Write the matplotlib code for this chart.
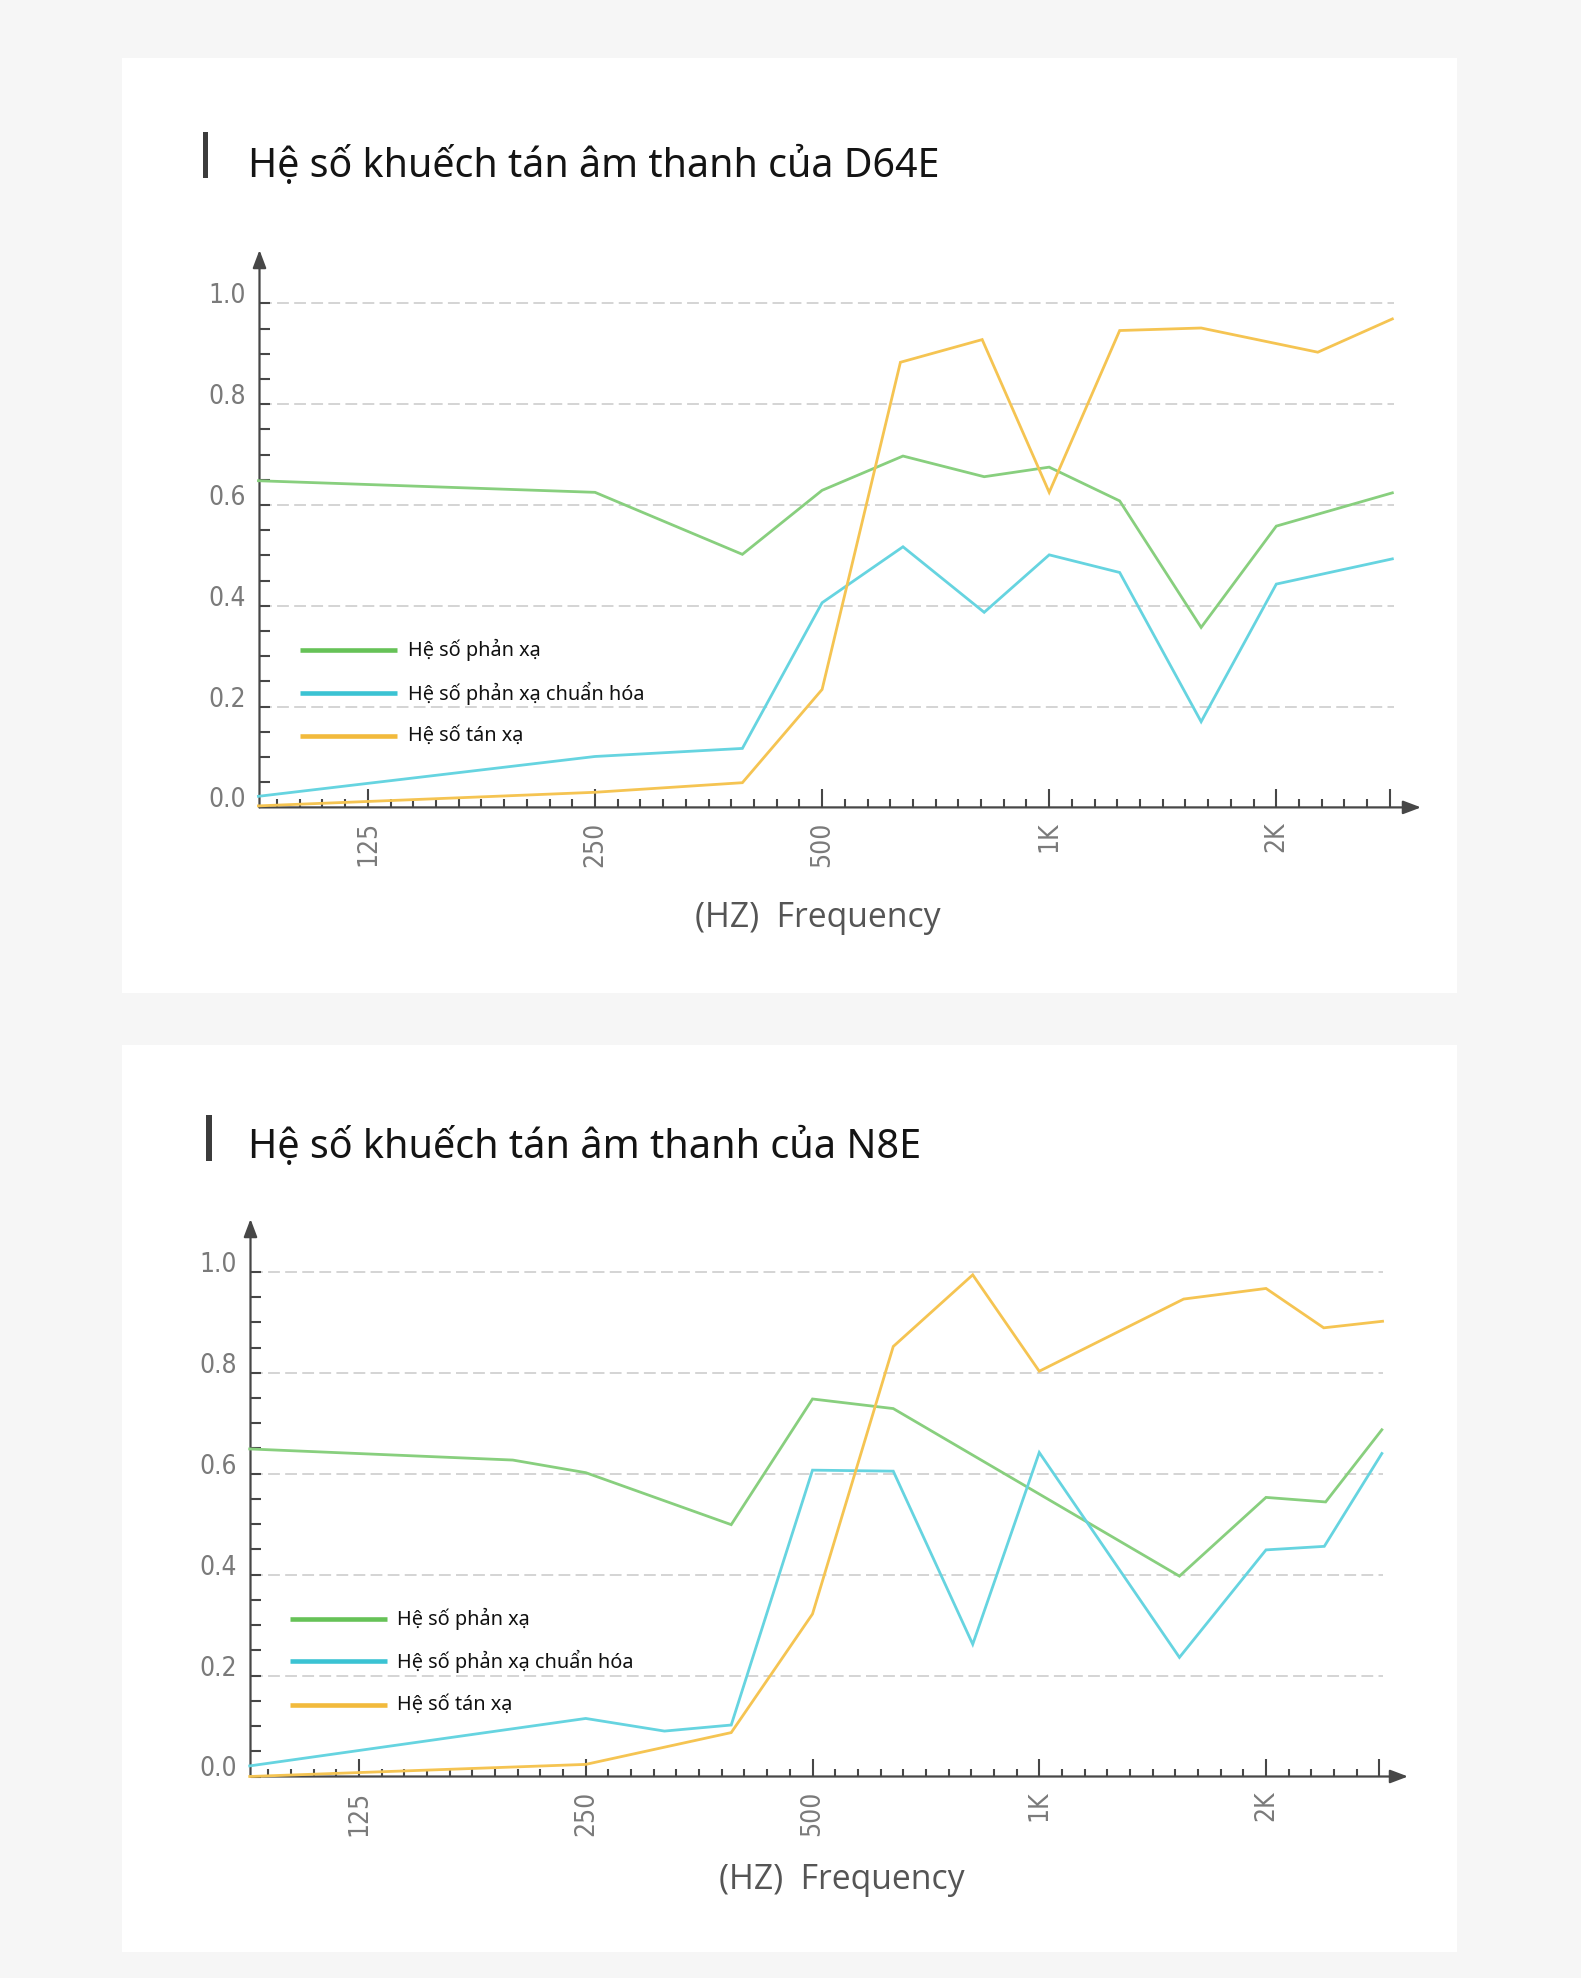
import numpy as np
import matplotlib
matplotlib.use("Agg")
import matplotlib.pyplot as plt
from matplotlib.patches import Rectangle
from matplotlib.lines import Line2D
from matplotlib.ticker import NullFormatter
from matplotlib import font_manager as fm

# ---------------- data ----------------
titles = ["Hệ số khuếch tán âm thanh của D64E", "Hệ số khuếch tán âm thanh của N8E"]
series_names = ["Hệ số phản xạ", "Hệ số phản xạ chuẩn hóa", "Hệ số tán xạ"]
xlabel_text = "(HZ)  Frequency"
xtick_freqs = [125, 250, 500, 1000, 2000]
xtick_labels = ["125", "250", "500", "1K", "2K"]
ytick_values = [0.0, 0.2, 0.4, 0.6, 0.8, 1.0]
ytick_labels = ["0.0", "0.2", "0.4", "0.6", "0.8", "1.0"]

# D64E
d64e_refl_freq = [89.5, 250, 392, 500, 640, 820, 1000, 1240, 1590, 2000, 2850]
d64e_refl = [0.648, 0.625, 0.502, 0.629, 0.697, 0.656, 0.675, 0.608, 0.357, 0.558, 0.624]
d64e_norm_freq = [89.5, 250, 392, 500, 640, 820, 1000, 1240, 1590, 2000, 2850]
d64e_norm = [0.022, 0.101, 0.117, 0.406, 0.517, 0.387, 0.501, 0.466, 0.170, 0.443, 0.493]
d64e_scat_freq = [89.5, 250, 392, 500, 635, 815, 1000, 1240, 1590, 2270, 2850]
d64e_scat = [0.003, 0.030, 0.049, 0.234, 0.883, 0.928, 0.625, 0.946, 0.951, 0.903, 0.969]

# N8E
n8e_refl_freq = [89.5, 200, 250, 390, 500, 640, 1535, 2000, 2400, 2850]
n8e_refl = [0.649, 0.627, 0.602, 0.499, 0.748, 0.729, 0.397, 0.553, 0.544, 0.687]
n8e_norm_freq = [89.5, 250, 318, 390, 500, 640, 816, 1000, 1535, 2000, 2390, 2850]
n8e_norm = [0.021, 0.115, 0.090, 0.102, 0.607, 0.605, 0.262, 0.642, 0.236, 0.449, 0.456, 0.640]
n8e_scat_freq = [89.5, 250, 390, 500, 640, 816, 1000, 1555, 2000, 2386, 2856]
n8e_scat = [0.000, 0.024, 0.087, 0.322, 0.852, 0.994, 0.803, 0.946, 0.967, 0.889, 0.902]

# ---------------- style ----------------
W, H, DPI = 1581, 1978, 100
plt.rcParams["lines.scale_dashes"] = False
plt.rcParams["font.family"] = ["Noto Sans", "DejaVu Sans"]

line_colors = ["#88cf7e", "#66d4e0", "#f5c452"]
legend_colors = ["#66c257", "#3bc3d3", "#f2ba3c"]
axis_color = "#474747"
tick_label_color = "#7a7a7a"


def pick_tick_font():
    try:
        p = fm.findfont(fm.FontProperties(family="Liberation Sans Narrow"), fallback_to_default=False)
        if "Narrow" in p:
            return fm.FontProperties(family="Liberation Sans Narrow")
    except Exception:
        pass
    try:
        fp = fm.FontProperties(family="DejaVu Sans", stretch="condensed")
        p = fm.findfont(fp, fallback_to_default=False)
        if "Condensed" in p:
            return fp
    except Exception:
        pass
    return fm.FontProperties(family="Noto Sans")


tick_fp = pick_tick_font()

fig = plt.figure(figsize=(W / DPI, H / DPI), dpi=DPI, facecolor="#f6f6f6")
renderer = fig.canvas.get_renderer()


def fx(x):
    return x / W


def fy(y):
    return 1 - y / H


def fit(txt, target_w):
    bb = txt.get_window_extent(renderer)
    txt.set_fontsize(txt.get_fontsize() * target_w / bb.width)
    return txt.get_fontsize()


# tick label size calibration
tmp = fig.text(0, 0, "125", fontproperties=tick_fp.copy())
tmp.set_fontsize(20)
tick_fs = fit(tmp, 45)
tmp.remove()

# cards
for (top, bottom) in [(58, 993), (1045, 1952)]:
    fig.add_artist(Rectangle((fx(122), fy(bottom)), fx(1457 - 122), (bottom - top) / H,
                             transform=fig.transFigure, facecolor="white",
                             edgecolor="none", zorder=0))

layouts = [
    dict(ax_left=259.5, ax_right=1421, y0=807.4, y1=303.3, ytop=250, x125=367.9, octave=227.1,
         grid_right=1394, bar=(203, 132, 178), title_xy=(248, 177), xlabel_xy=(817.5, 927),
         leg_x=(300, 397), leg_y=[650, 693, 736], leg_tx=408, title_w=691),
    dict(ax_left=250.5, ax_right=1408, y0=1776.5, y1=1271.8, ytop=1219, x125=359, octave=226.75,
         grid_right=1383, bar=(206, 1115, 1161), title_xy=(248, 1158), xlabel_xy=(842, 1889),
         leg_x=(290, 387), leg_y=[1619, 1661, 1705], leg_tx=397, title_w=672),
]

datasets = [
    [(d64e_refl_freq, d64e_refl), (d64e_norm_freq, d64e_norm), (d64e_scat_freq, d64e_scat)],
    [(n8e_refl_freq, n8e_refl), (n8e_norm_freq, n8e_norm), (n8e_scat_freq, n8e_scat)],
]

minor_freqs = [125 * 2 ** (k / 10) for k in range(-4, 45) if k % 10 != 0]
end_tick = 125 * 2 ** 4.5

for L, data, title in zip(layouts, datasets, titles):
    # title & bar
    bx, bt, bb = L["bar"]
    fig.add_artist(Rectangle((fx(bx), fy(bb)), fx(5.5), (bb - bt) / H, transform=fig.transFigure,
                             facecolor="#3c3c3c", edgecolor="none", zorder=2))
    t = fig.text(fx(L["title_xy"][0]), fy(L["title_xy"][1]), title, fontsize=30,
                 ha="left", va="baseline", color="#141414")
    fit(t, L["title_w"])

    # axes
    l, r, y0, y1, ytop = L["ax_left"], L["ax_right"], L["y0"], L["y1"], L["ytop"]
    ax = fig.add_axes([fx(l), fy(y0), fx(r - l), (y0 - ytop) / H])
    ax.set_facecolor("none")
    ax.set_xscale("log", base=2)
    flo = 125 * 2 ** ((l - L["x125"]) / L["octave"])
    fhi = 125 * 2 ** ((r - L["x125"]) / L["octave"])
    ax.set_xlim(flo, fhi)
    ax.set_ylim(0, (y0 - ytop) / (y0 - y1))
    for s in ax.spines.values():
        s.set_visible(False)

    # axis lines with arrows
    aprops = dict(arrowstyle="-|>,head_length=0.45,head_width=0.17", color=axis_color, lw=1.6,
                  shrinkA=0, shrinkB=0, mutation_scale=24)
    ax.annotate("", xy=(1, 0), xytext=(0, 0), xycoords="axes fraction", textcoords="axes fraction",
                arrowprops=aprops, annotation_clip=False)
    ax.annotate("", xy=(0, 1), xytext=(0, 0), xycoords="axes fraction", textcoords="axes fraction",
                arrowprops=aprops, annotation_clip=False)

    # grid
    gfrac = (L["grid_right"] - l) / (r - l)
    for v in ytick_values[1:]:
        ax.axhline(v, xmin=0.0, xmax=gfrac, color="#cdcdcd", lw=1.2, ls=(0, (8.5, 3.8)), zorder=1)

    # x ticks
    ax.set_xticks(xtick_freqs + [end_tick], xtick_labels + [""])
    ax.set_xticks(minor_freqs, minor=True)
    ax.xaxis.set_minor_formatter(NullFormatter())
    ax.tick_params(axis="x", which="major", direction="in", length=13, width=1.5, color=axis_color,
                   pad=10, labelsize=tick_fs, labelcolor=tick_label_color, labelrotation=90)
    ax.tick_params(axis="x", which="minor", direction="in", length=6, width=1.5, color=axis_color)

    # y ticks
    ax.set_yticks(ytick_values, ytick_labels)
    ax.set_yticks([0.05 + 0.1 * i for i in range(10)] + [0.1 * i for i in range(1, 10, 2)], minor=True)
    ax.yaxis.set_minor_formatter(NullFormatter())
    ax.tick_params(axis="y", which="both", direction="in", length=7.5, width=1.5, color=axis_color,
                   pad=10, labelsize=tick_fs, labelcolor=tick_label_color)
    for lab in ax.get_xticklabels() + ax.get_yticklabels():
        lab.set_family(tick_fp.get_family())
        lab.set_stretch(tick_fp.get_stretch())
    for tk in ax.yaxis.get_major_ticks():
        tk.label1.set_verticalalignment("baseline")

    # data lines
    for (fq, vals), c in zip(data, line_colors):
        ax.plot(fq, vals, color=c, lw=2.0, clip_on=False, zorder=3, solid_joinstyle="miter")

    # x label
    xl = fig.text(fx(L["xlabel_xy"][0]), fy(L["xlabel_xy"][1]), xlabel_text, ha="center",
                  va="baseline", color="#555555", fontsize=22, family=["Open Sans", "DejaVu Sans"])
    fit(xl, 246)

    # legend (manual)
    x0, x1 = L["leg_x"]
    texts = []
    for yy, name, c in zip(L["leg_y"], series_names, legend_colors):
        fig.add_artist(Line2D([fx(x0), fx(x1)], [fy(yy), fy(yy)], transform=fig.transFigure,
                              color=c, lw=3.3, solid_capstyle="butt"))
        texts.append(fig.text(fx(L["leg_tx"]), fy(yy), name, ha="left", va="center",
                              fontsize=14, color="#111111"))
    fs = fit(texts[1], 237)
    for tx in texts:
        tx.set_fontsize(fs)

fig.savefig("out.png", dpi=DPI, facecolor=fig.get_facecolor())
